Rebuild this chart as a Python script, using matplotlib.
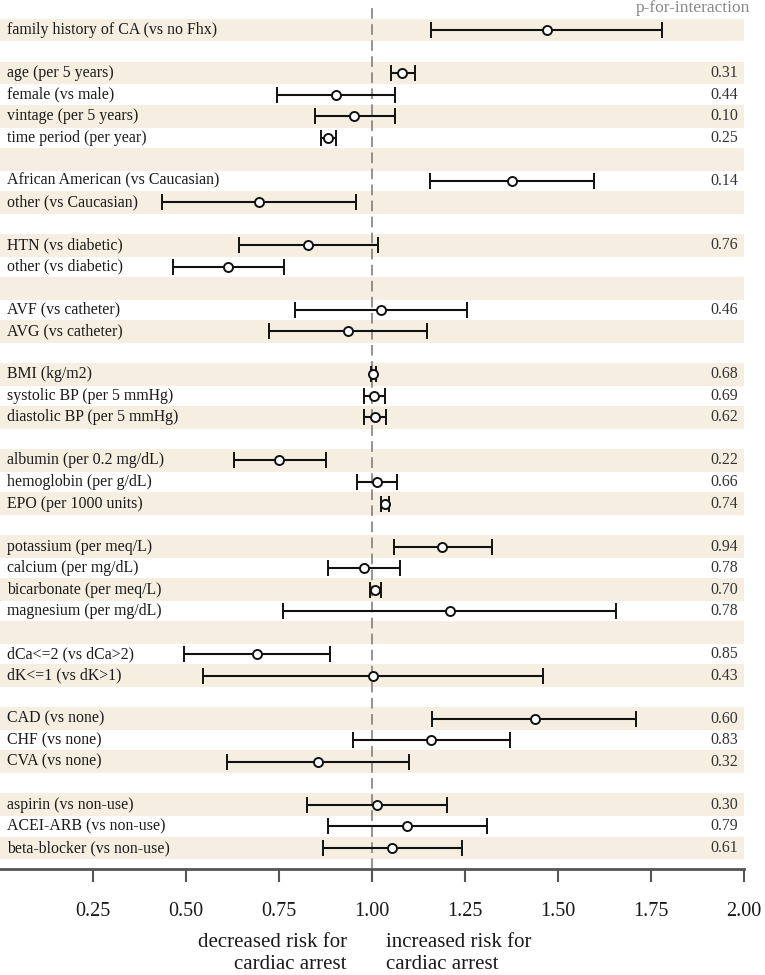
"""
forest plot of hazard ratios for cardiac arrest
"""

import matplotlib
matplotlib.use('Agg')
import matplotlib.pyplot as plt
import numpy as np

# row labels ('' = spacer row between groups)
labels = ['family history of CA (vs no Fhx)', '',
          'age (per 5 years)', 'female (vs male)', 'vintage (per 5 years)', 'time period (per year)', '',
          'African American (vs Caucasian)', 'other (vs Caucasian)', '',
          'HTN (vs diabetic)', 'other (vs diabetic)', '',
          'AVF (vs catheter)', 'AVG (vs catheter)', '',
          'BMI (kg/m2)', 'systolic BP (per 5 mmHg)', 'diastolic BP (per 5 mmHg)', '',
          'albumin (per 0.2 mg/dL)', 'hemoglobin (per g/dL)', 'EPO (per 1000 units)', '',
          'potassium (per meq/L)', 'calcium (per mg/dL)', 'bicarbonate (per meq/L)', 'magnesium (per mg/dL)', '',
          'dCa<=2 (vs dCa>2)', 'dK<=1 (vs dK>1)', '',
          'CAD (vs none)', 'CHF (vs none)', 'CVA (vs none)', '',
          'aspirin (vs non-use)', 'ACEI-ARB (vs non-use)', 'beta-blocker (vs non-use)']

est = [1.47, None,
       1.08, 0.903, 0.953, 0.883, None,
       1.377, 0.697, None,
       0.829, 0.613, None,
       1.025, 0.935, None,
       1.004, 1.006, 1.007, None,
       0.751, 1.013, 1.034, None,
       1.187, 0.978, 1.009, 1.21, None,
       0.691, 1.002, None,
       1.437, 1.16, 0.856, None,
       1.013, 1.094, 1.055]

lower = [1.16, None,
         1.05, 0.745, 0.847, 0.862, None,
         1.156, 0.435, None,
         0.642, 0.465, None,
         0.792, 0.722, None,
         0.997, 0.978, 0.978, None,
         0.628, 0.961, 1.023, None,
         1.058, 0.882, 0.995, 0.761, None,
         0.494, 0.545, None,
         1.162, 0.95, 0.61, None,
         0.824, 0.882, 0.868]

upper = [1.78, None,
         1.115, 1.063, 1.063, 0.904, None,
         1.598, 0.957, None,
         1.016, 0.763, None,
         1.256, 1.148, None,
         1.01, 1.036, 1.038, None,
         0.877, 1.066, 1.045, None,
         1.322, 1.075, 1.025, 1.656, None,
         0.888, 1.461, None,
         1.711, 1.371, 1.10, None,
         1.202, 1.309, 1.243]

pvals = ['', '',
         '0.31', '0.44', '0.10', '0.25', '',
         '0.14', '', '',
         '0.76', '', '',
         '0.46', '', '',
         '0.68', '0.69', '0.62', '',
         '0.22', '0.66', '0.74', '',
         '0.94', '0.78', '0.70', '0.78', '',
         '0.85', '0.43', '',
         '0.60', '0.83', '0.32', '',
         '0.30', '0.79', '0.61']

xticks = [0.25, 0.50, 0.75, 1.00, 1.25, 1.50, 1.75, 2.00]

plt.rcParams['font.family'] = ['Liberation Serif', 'DejaVu Serif']

band_color = '#f5eee1'
text_color = '#1a1a1a'

fig = plt.figure(figsize=(7.65, 9.75), dpi=100)
ax = fig.add_axes([0.0, 0.1087, 0.9725, 0.8826])

n = len(labels)
y = np.arange(n)
e = np.array([np.nan if v is None else v for v in est], dtype=float)
lo = np.array([np.nan if v is None else v for v in lower], dtype=float)
hi = np.array([np.nan if v is None else v for v in upper], dtype=float)

# alternating shaded rows
for i in range(0, n, 2):
    ax.axhspan(i - 0.53, i + 0.53, color=band_color, lw=0, zorder=0)

# reference line at HR = 1
ax.axvline(1.0, color='#777777', lw=1.1, dashes=(7, 3.5), zorder=1)

ok = ~np.isnan(e)
ax.errorbar(e[ok], y[ok], xerr=[e[ok] - lo[ok], hi[ok] - e[ok]], fmt='o',
            color='#111111', ecolor='#111111', elinewidth=1.5, capsize=5.5, capthick=1.5,
            mfc='white', mec='#111111', mew=1.4, ms=6.5, zorder=3)

for i in range(n):
    if labels[i]:
        ax.text(0.02, i, labels[i], ha='left', va='center', fontsize=11.4, color=text_color)
    if pvals[i]:
        ax.text(1.985, i, pvals[i], ha='right', va='center', fontsize=11.4, color='#333333')

fig.text(750 / 765, 1 - 8 / 975, 'p-for-interaction', ha='right', va='center',
         fontsize=12.5, color='#888888')

ax.set_xlim(0, 2.0)
ax.set_ylim(n - 0.02, -1)
ax.set_yticks([])
ax.set_xticks(xticks)
ax.set_xticklabels(['%.2f' % t for t in xticks], fontsize=14.5, color=text_color)
ax.tick_params(axis='x', direction='out', length=9, width=1.5, color='#555555', pad=15)
for s in ['top', 'left', 'right']:
    ax.spines[s].set_visible(False)
ax.spines['bottom'].set_color('#555555')
ax.spines['bottom'].set_linewidth(2)

fig.text(347 / 765, 1 - 933 / 975, 'decreased risk for\ncardiac arrest', ha='right', va='top',
         multialignment='right', fontsize=15, color=text_color, linespacing=1.2)
fig.text(386 / 765, 1 - 933 / 975, 'increased risk for\ncardiac arrest', ha='left', va='top',
         multialignment='left', fontsize=15, color=text_color, linespacing=1.2)

fig.savefig('out.png', dpi=100)
plt.close(fig)
